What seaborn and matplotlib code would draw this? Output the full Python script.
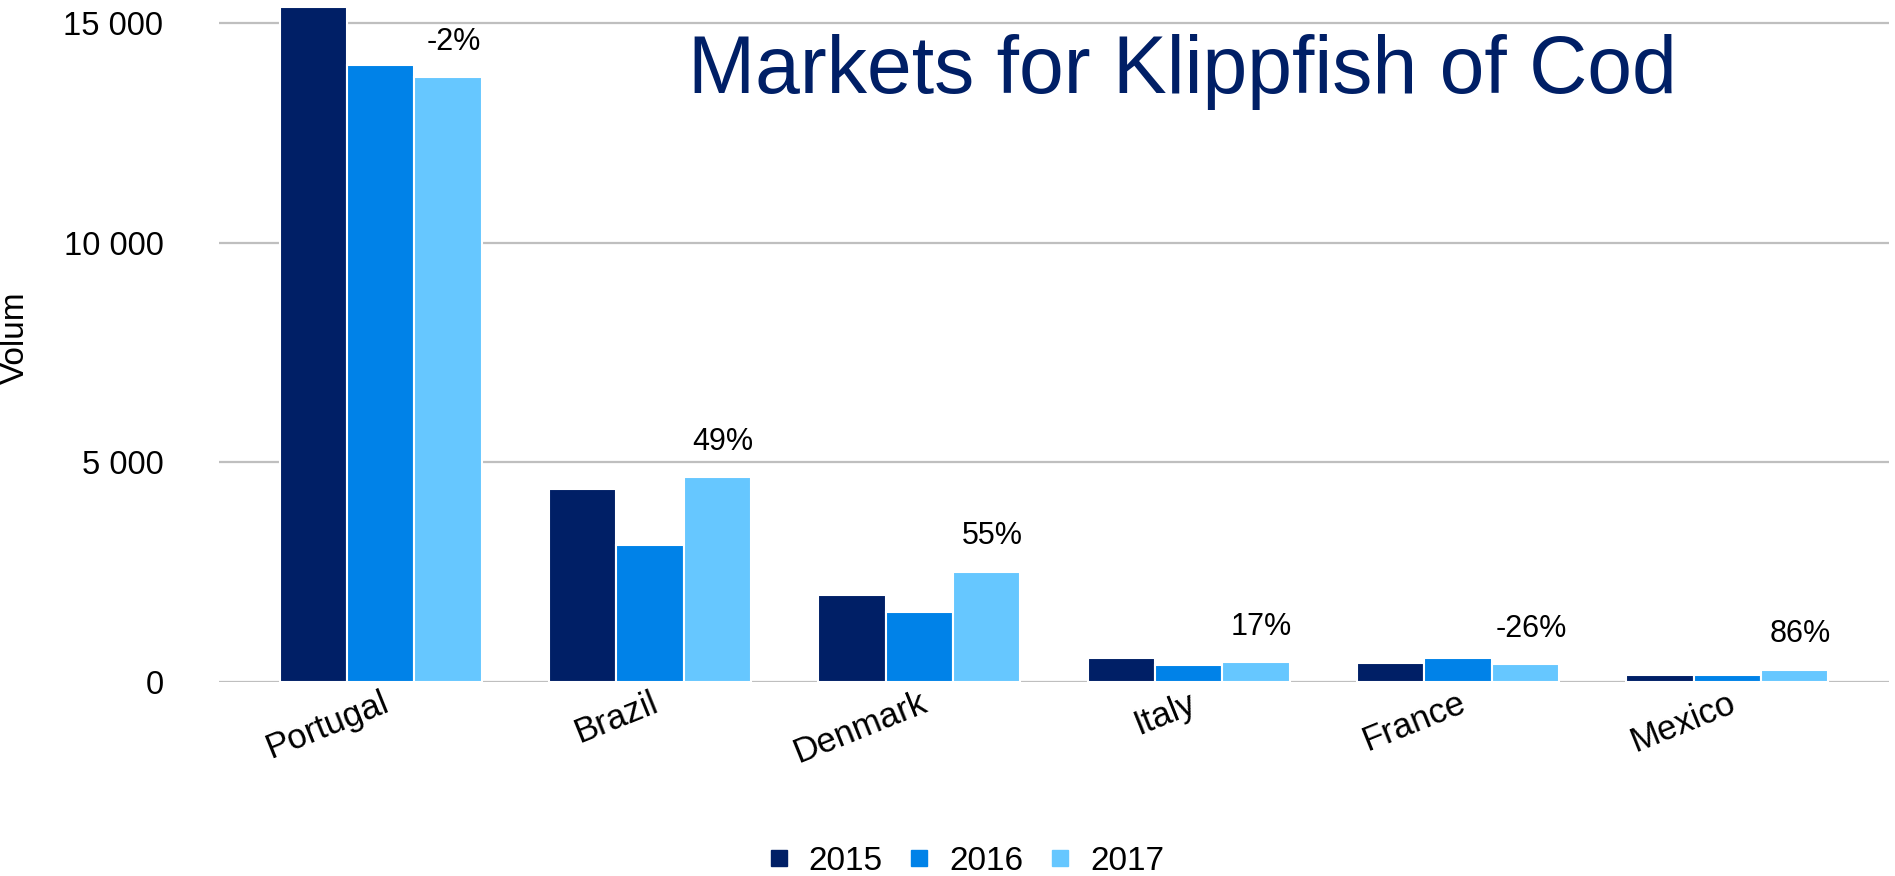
import matplotlib
matplotlib.use("Agg")
import matplotlib.pyplot as plt
import matplotlib.ticker as mticker
from matplotlib.lines import Line2D
import seaborn as sns
import pandas as pd

# ── Data ───────────────────────────────────────────────────────────────────
countries = ["Portugal", "Brazil", "Denmark", "Italy", "France", "Mexico"]
years     = ["2015", "2016", "2017"]
vol_2015  = [15360, 4390, 1970, 550, 440, 150]
vol_2016  = [14050, 3130, 1600, 380, 545, 150]
vol_2017  = [13770, 4660, 2500, 445, 400, 280]
change    = ["-2%", "49%", "55%", "17%", "-26%", "86%"]

df = pd.DataFrame({
    "country": countries * 3,
    "year":    [y for y in years for _ in countries],
    "volum":   vol_2015 + vol_2016 + vol_2017,
})

# ── Style ───────────────────────────────────────────────────────────────────
COLORS = ["#001F66", "#0082E8", "#66C7FF"]
TITLE  = "#001F66"
GRID   = "#BFBFBF"
sns.set_theme(style="white")
plt.rcParams.update({
    "font.family": ["Liberation Sans", "DejaVu Sans"],
    "figure.facecolor": "white",
    "axes.facecolor": "white",
    "text.color": "black",
    "axes.labelcolor": "black",
    "xtick.color": "black",
    "ytick.color": "black",
})

fig = plt.figure(figsize=(18.95, 8.76), dpi=100)
ax = fig.add_axes([219 / 1895, 1 - 682 / 876, (1889 - 219) / 1895, 682 / 876])

sns.barplot(data=df, x="country", y="volum", hue="year", order=countries,
            hue_order=years, palette=COLORS, saturation=1, width=0.75, ax=ax,
            edgecolor="white", linewidth=1.5, legend=False, errorbar=None)

ax.set_xlim(-0.6, 5.6)
ax.set_ylim(0, 15530)
ax.set_yticks([0, 5000, 10000, 15000])
ax.yaxis.set_major_formatter(mticker.FuncFormatter(lambda v, p: f"{v:,.0f}".replace(",", " ")))
ax.grid(axis="y", color=GRID, linewidth=1.6)
ax.set_axisbelow(True)
for s in ax.spines.values():
    s.set_visible(False)
ax.tick_params(axis="y", length=0, pad=40, labelsize=23.5)
ax.tick_params(axis="x", length=0, pad=3)
ax.set_xticks(range(len(countries)))
ax.set_xticklabels(countries, rotation=22, ha="right", va="top",
                   rotation_mode="anchor", fontsize=25)
ax.set_xlabel("")
ax.set_ylabel("Volum", fontsize=24, va="center")
ax.yaxis.set_label_coords(-0.1222, 0.505)

# percentage change labels above the 2017 bars
for bar, lab in zip(ax.containers[2], change):
    ax.annotate(lab, (bar.get_x() + bar.get_width() / 2, bar.get_height()),
                xytext=(4, 20), textcoords="offset points",
                ha="center", va="baseline", fontsize=22)

ax.text(0.281, 0.895, "Markets for Klippfish of Cod", transform=ax.transAxes,
        fontsize=58, color=TITLE, ha="left", va="center")

handles = [Line2D([], [], marker="s", linestyle="", markersize=11,
                  markerfacecolor=c, markeredgecolor=c) for c in COLORS]
fig.legend(handles, years, loc="center", bbox_to_anchor=(0.51, 0.017),
           ncol=3, frameon=False, fontsize=24, handlelength=0.6,
           handletextpad=0.6, columnspacing=0.8)

fig.savefig("out.png", dpi=100, facecolor="white")
